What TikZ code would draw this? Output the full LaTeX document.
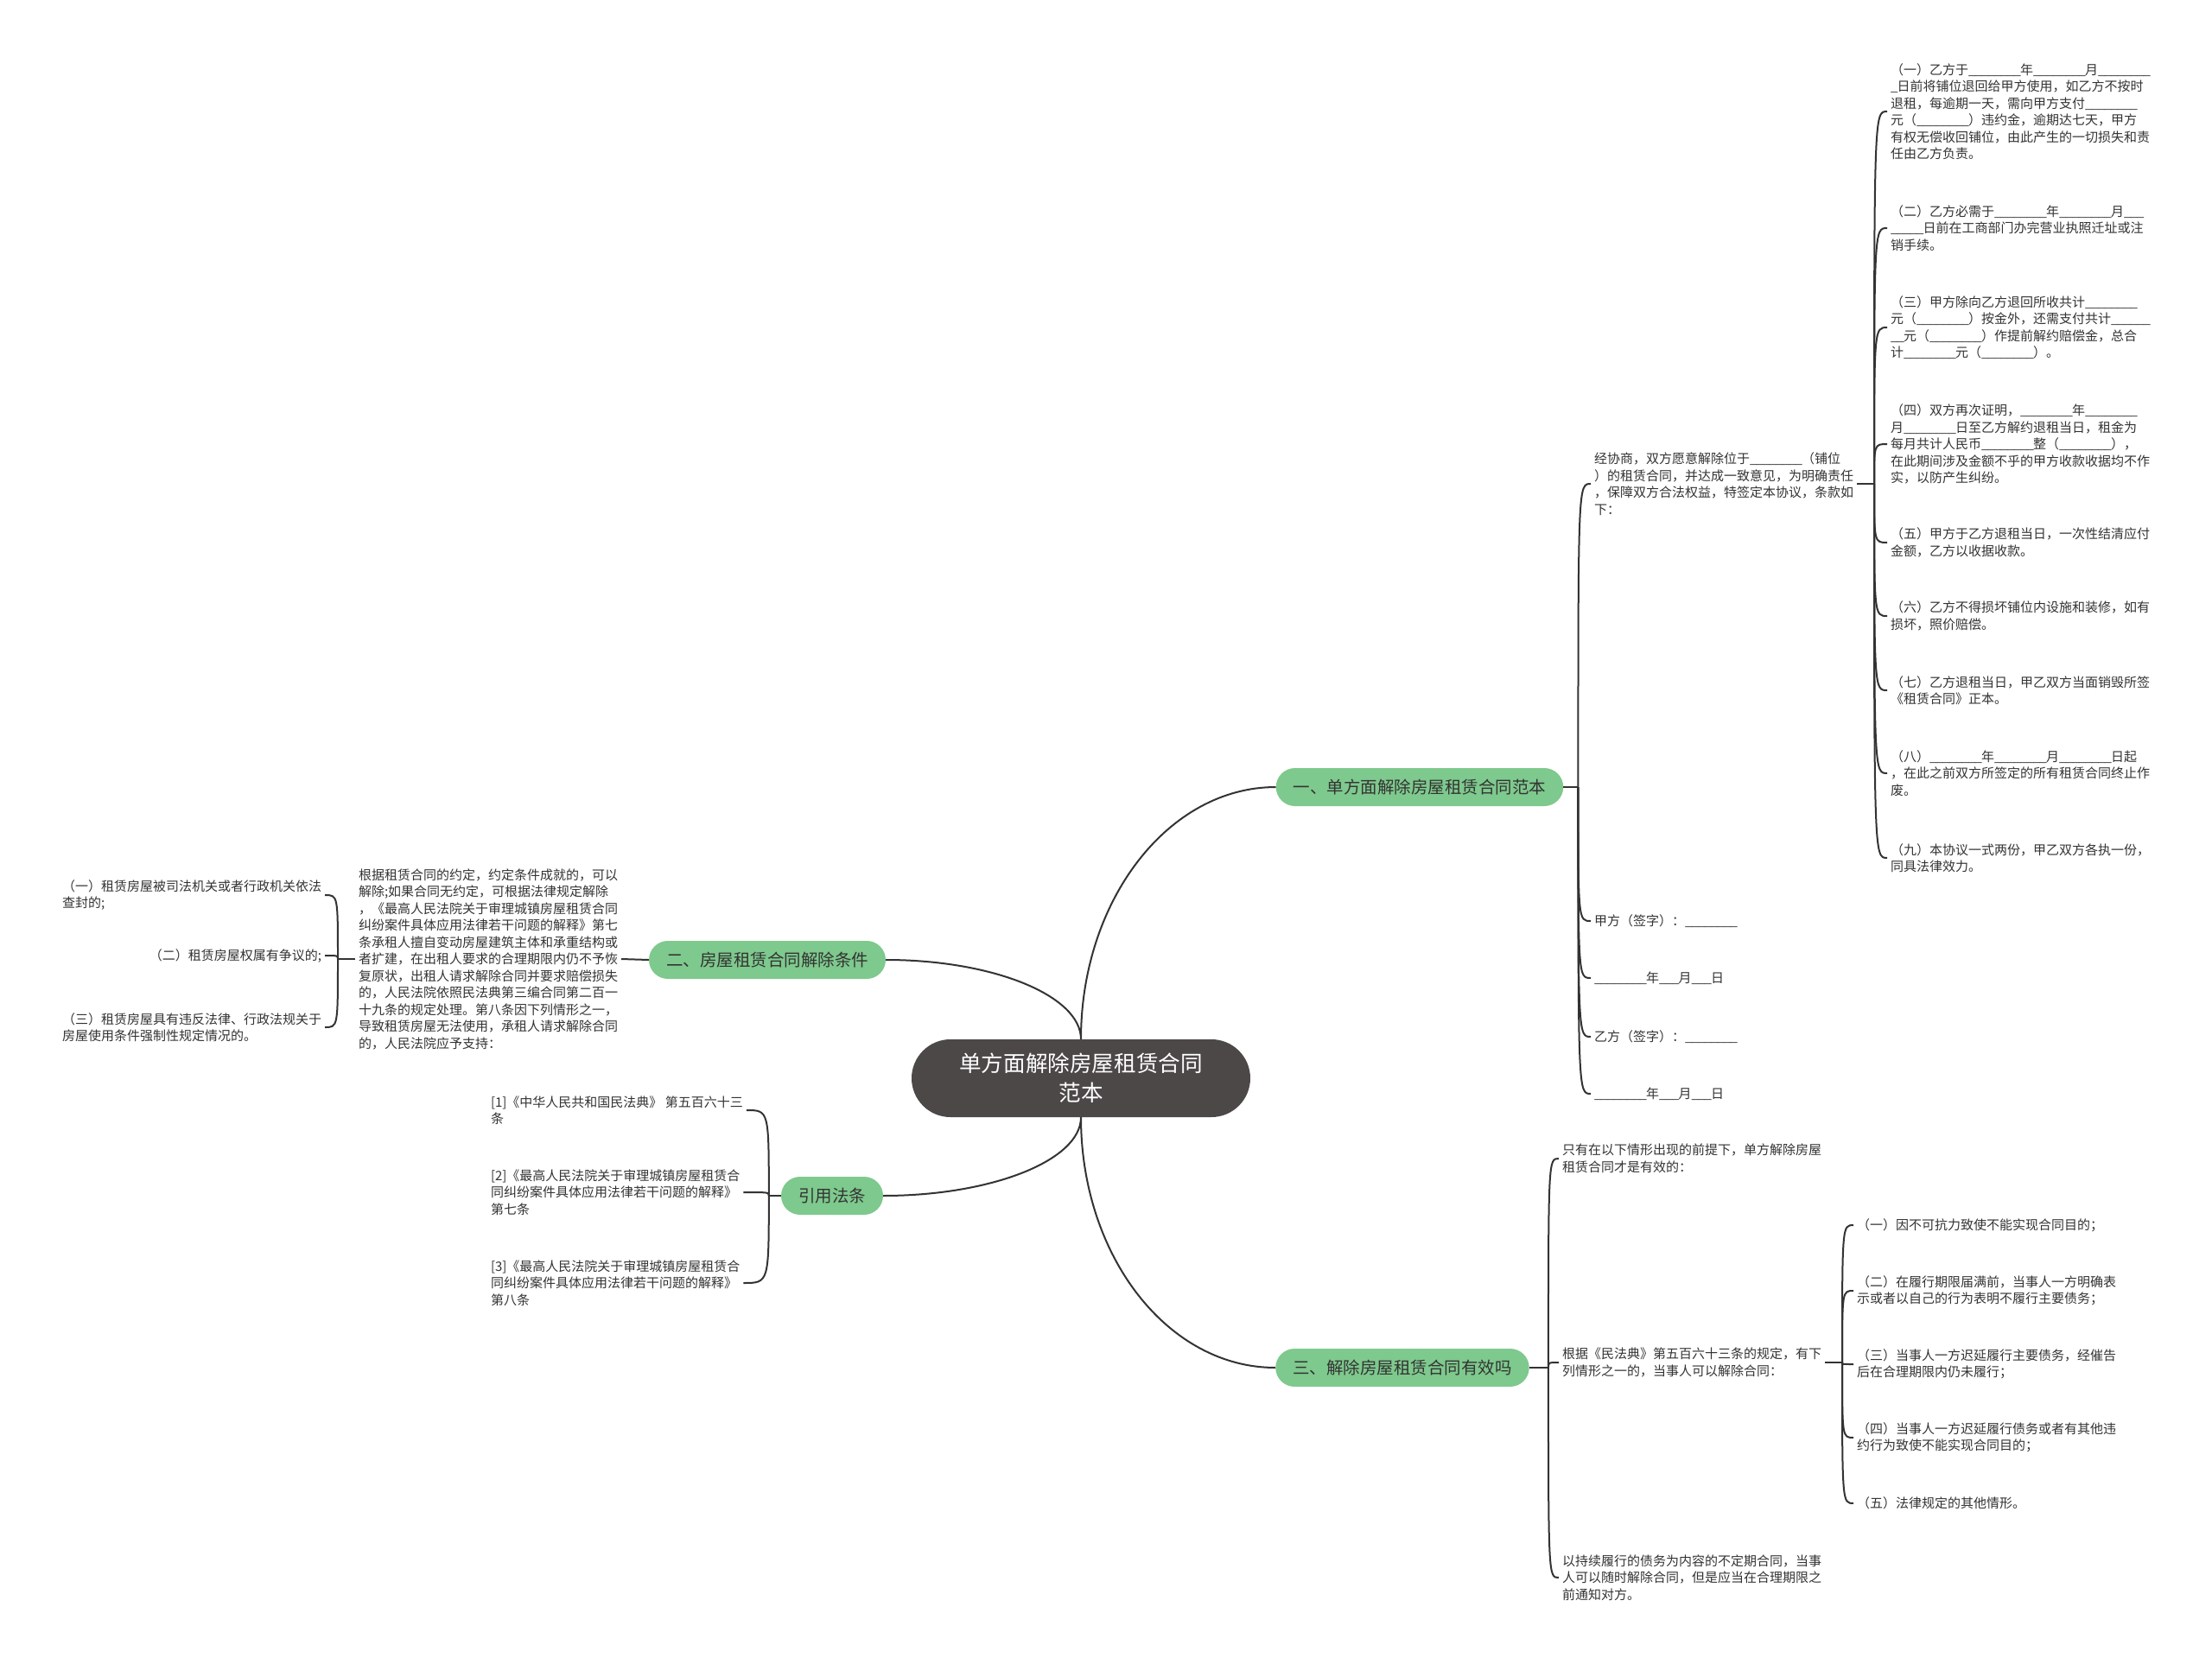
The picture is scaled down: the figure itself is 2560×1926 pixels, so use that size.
\documentclass[tikz,border=0pt]{standalone}
\usepackage{fontspec}
\setmainfont{Noto Sans CJK SC}
\definecolor{topicgreen}{RGB}{126,201,141}
\definecolor{rootgray}{RGB}{77,72,72}
\definecolor{ink}{RGB}{51,51,51}
\def\us{\makebox[7.5pt][l]{\_}}
\def\blk{\us\us\us\us\us\us\us\us}
\def\hook(#1,#2){\draw [link] (#1) .. controls (#1 |- #2) .. (#2);}

\begin{document}
\begin{tikzpicture}[x=1pt,y=-1pt,
  link/.style={draw=ink,line width=2pt},
  topic/.style={fill=topicgreen,rounded corners=22pt,minimum height=44pt,inner xsep=20pt,inner ysep=0pt,text=ink,font=\fontsize{19.5}{23}\selectfont},
  note/.style={inner sep=0pt,outer sep=4pt,align=left,text=ink,font=\fontsize{15}{19.5}\selectfont}]
\fill [white] (0,0) rectangle (2560,1926);
\useasboundingbox (0,0) rectangle (2560,1926);
% centre and main topics
\node [fill=rootgray,text=white,rounded corners=45pt,minimum width=392pt,minimum height=90pt,align=center,font=\fontsize{25.6}{34}\selectfont] (root) at (1251,1248) {单方面解除房屋租赁合同\\范本};
\node [topic] (t1) at (1643,911) {一、单方面解除房屋租赁合同范本};
\node [topic] (t2) at (888,1111) {二、房屋租赁合同解除条件};
\node [topic] (t3) at (963,1384) {引用法条};
\node [topic] (t4) at (1623,1583) {三、解除房屋租赁合同有效吗};
\draw [link] (root.north) .. controls +(0,-160) and +(-125,0) .. (t1.west);
\draw [link] (root.north) .. controls +(0,-50) and +(125,0) .. (t2.east);
\draw [link] (root.south) .. controls +(0,50) and +(125,0) .. (t3.east);
\draw [link] (root.south) .. controls +(0,160) and +(-125,0) .. (t4.west);
% topic one
\node [note,anchor=west] (a0) at (1841,560) {经协商，双方愿意解除位于\blk（铺位\\
）的租赁合同，并达成一致意见，为明确责任\\
，保障双方合法权益，特签定本协议，条款如\\
下：};
\node [note,anchor=west] (s1) at (1841,1066) {甲方（签字）：\blk};
\node [note,anchor=west] (s2) at (1841,1132) {\blk 年\us\us\us 月\us\us\us 日};
\node [note,anchor=west] (s3) at (1841,1200) {乙方（签字）：\blk};
\node [note,anchor=west] (s4) at (1841,1266) {\blk 年\us\us\us 月\us\us\us 日};
\coordinate (k1) at ([xshift=17pt]t1.east);
\draw [link] (t1.east) -- (k1);
\foreach \n in {a0,s1,s2,s3,s4} {\hook(k1,\n.west)}
\node [note,anchor=west] (c1) at (2184,129) {（一）乙方于\blk 年\blk 月\blk\\
\us 日前将铺位退回给甲方使用，如乙方不按时\\
退租，每逾期一天，需向甲方支付\blk\\
元（\blk）违约金，逾期达七天，甲方\\
有权无偿收回铺位，由此产生的一切损失和责\\
任由乙方负责。};
\node [note,anchor=west] (c2) at (2184,264) {（二）乙方必需于\blk 年\blk 月\us\us\us\\
\us\us\us\us\us 日前在工商部门办完营业执照迁址或注\\
销手续。};
\node [note,anchor=west] (c3) at (2184,379) {（三）甲方除向乙方退回所收共计\blk\\
元（\blk）按金外，还需支付共计\us\us\us\us\us\us\\
\us\us 元（\blk）作提前解约赔偿金，总合\\
计\blk 元（\blk）。};
\node [note,anchor=west] (c4) at (2184,514) {（四）双方再次证明，\blk 年\blk\\
月\blk 日至乙方解约退租当日，租金为\\
每月共计人民币\blk 整（\blk），\\
在此期间涉及金额不乎的甲方收款收据均不作\\
实，以防产生纠纷。};
\node [note,anchor=west] (c5) at (2184,628) {（五）甲方于乙方退租当日，一次性结清应付\\
金额，乙方以收据收款。};
\node [note,anchor=west] (c6) at (2184,713) {（六）乙方不得损坏铺位内设施和装修，如有\\
损坏，照价赔偿。};
\node [note,anchor=west] (c7) at (2184,799) {（七）乙方退租当日，甲乙双方当面销毁所签\\
《租赁合同》正本。};
\node [note,anchor=west] (c8) at (2184,895) {（八）\blk 年\blk 月\blk 日起\\
，在此之前双方所签定的所有租赁合同终止作\\
废。};
\node [note,anchor=west] (c9) at (2184,993) {（九）本协议一式两份，甲乙双方各执一份，\\
同具法律效力。};
\coordinate (k2) at ([xshift=20pt]a0.east);
\draw [link] (a0.east) -- (k2);
\foreach \n in {c1,c2,c3,c4,c5,c6,c7,c8,c9} {\hook(k2,\n.west)}
% topic two
\node [note,anchor=east] (g0) at (719,1110) {根据租赁合同的约定，约定条件成就的，可以\\
解除;如果合同无约定，可根据法律规定解除\\
，《最高人民法院关于审理城镇房屋租赁合同\\
纠纷案件具体应用法律若干问题的解释》第七\\
条承租人擅自变动房屋建筑主体和承重结构或\\
者扩建，在出租人要求的合理期限内仍不予恢\\
复原状，出租人请求解除合同并要求赔偿损失\\
的，人民法院依照民法典第三编合同第二百一\\
十九条的规定处理。第八条因下列情形之一，\\
导致租赁房屋无法使用，承租人请求解除合同\\
的，人民法院应予支持：};
\draw [link] (t2.west) -- (g0.east);
\node [note,anchor=east] (g1) at (376,1036) {（一）租赁房屋被司法机关或者行政机关依法\\
查封的;};
\node [note,anchor=east] (g2) at (376,1106) {（二）租赁房屋权属有争议的;};
\node [note,anchor=east] (g3) at (376,1189) {（三）租赁房屋具有违反法律、行政法规关于\\
房屋使用条件强制性规定情况的。};
\coordinate (k3) at ([xshift=-20pt]g0.west);
\draw [link] (g0.west) -- (k3);
\foreach \n in {g1,g2,g3} {\hook(k3,\n.east)}
% references
\node [note,anchor=west] (r1) at (564,1285) {[1]《中华人民共和国民法典》 第五百六十三\\
条};
\node [note,anchor=west] (r2) at (564,1380) {[2]《最高人民法院关于审理城镇房屋租赁合\\
同纠纷案件具体应用法律若干问题的解释》\\
第七条};
\node [note,anchor=west] (r3) at (564,1485) {[3]《最高人民法院关于审理城镇房屋租赁合\\
同纠纷案件具体应用法律若干问题的解释》\\
第八条};
\coordinate (k4) at ([xshift=-14pt]t3.west);
\draw [link] (t3.west) -- (k4);
\foreach \n in {r1,r2,r3} {\hook(k4,\n.east)}
% topic three
\node [note,anchor=west] (h1) at (1804,1341) {只有在以下情形出现的前提下，单方解除房屋\\
租赁合同才是有效的：};
\node [note,anchor=west] (h2) at (1804,1577) {根据《民法典》第五百六十三条的规定，有下\\
列情形之一的，当事人可以解除合同：};
\node [note,anchor=west] (h3) at (1804,1826) {以持续履行的债务为内容的不定期合同，当事\\
人可以随时解除合同，但是应当在合理期限之\\
前通知对方。};
\coordinate (k5) at ([xshift=22pt]t4.east);
\draw [link] (t4.east) -- (k5);
\foreach \n in {h1,h2,h3} {\hook(k5,\n.west)}
\node [note,anchor=west] (d1) at (2145,1418) {（一）因不可抗力致使不能实现合同目的；};
\node [note,anchor=west] (d2) at (2145,1494) {（二）在履行期限届满前，当事人一方明确表\\
示或者以自己的行为表明不履行主要债务；};
\node [note,anchor=west] (d3) at (2145,1579) {（三）当事人一方迟延履行主要债务，经催告\\
后在合理期限内仍未履行；};
\node [note,anchor=west] (d4) at (2145,1664) {（四）当事人一方迟延履行债务或者有其他违\\
约行为致使不能实现合同目的；};
\node [note,anchor=west] (d5) at (2145,1740) {（五）法律规定的其他情形。};
\coordinate (k6) at ([xshift=20pt]h2.east);
\draw [link] (h2.east) -- (k6);
\foreach \n in {d1,d2,d3,d4,d5} {\hook(k6,\n.west)}
\end{tikzpicture}
\end{document}
